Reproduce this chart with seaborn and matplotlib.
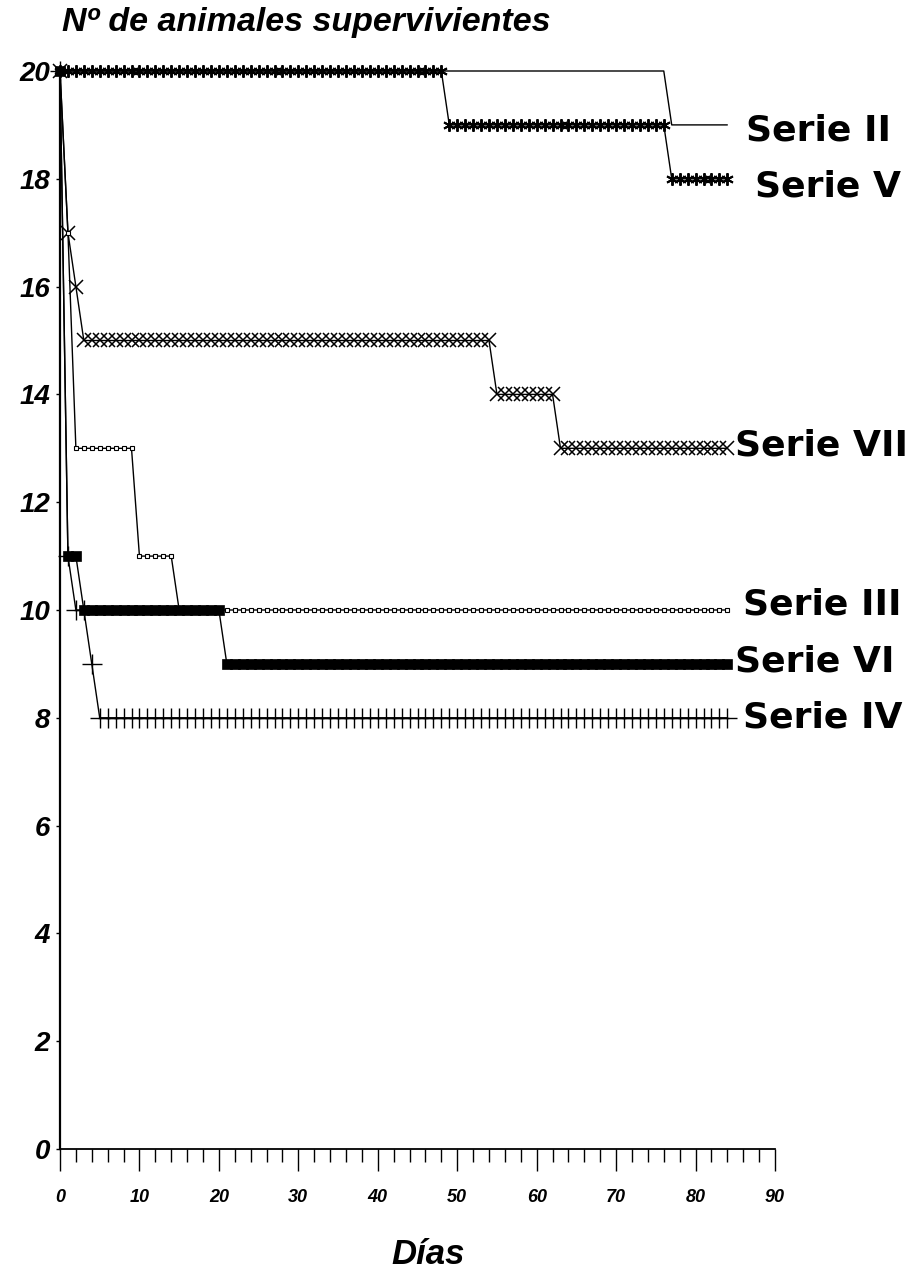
import matplotlib
matplotlib.use("Agg")
import matplotlib.pyplot as plt
import seaborn as sns
import pandas as pd
import numpy as np
from matplotlib.ticker import MultipleLocator

# ---------------- data ----------------
dias = list(range(85))  # days 0..84

serie_ii = [20] * 77 + [19] * 8
serie_v = [20] * 49 + [19] * 28 + [18] * 8
serie_vii = [20, 17, 16] + [15] * 52 + [14] * 8 + [13] * 22
serie_iii = [20, 17] + [13] * 8 + [11] * 5 + [10] * 70
serie_vi = [20] + [11] * 2 + [10] * 18 + [9] * 64
serie_iv = [20, 11] + [10] * 2 + [9] + [8] * 80

series_names = ["Serie II", "Serie V", "Serie VII", "Serie III", "Serie VI", "Serie IV"]
series_values = [serie_ii, serie_v, serie_vii, serie_iii, serie_vi, serie_iv]

x_ticks = [0, 10, 20, 30, 40, 50, 60, 70, 80, 90]
y_ticks = [0, 2, 4, 6, 8, 10, 12, 14, 16, 18, 20]

title_text = "Nº de animales supervivientes"
xlabel_text = "Días"

# ---------------- styles ----------------
styles = {
    "Serie II": dict(marker=None, lw=1.0),
    "Serie V": dict(marker=(6, 2, 0), markersize=9, mew=1.4, lw=1.0),
    "Serie VII": dict(marker="x", markersize=10.5, mew=1.1, lw=1.0),
    "Serie III": dict(marker="s", markersize=3.3, mew=0.8, mfc="white", lw=1.0),
    "Serie VI": dict(marker="s", markersize=6.5, mew=0.5, mfc="black", lw=1.0),
    "Serie IV": dict(marker="+", markersize=14, mew=1.0, lw=1.0),
}
label_pos = {
    "Serie II": (86.3, 18.9),
    "Serie V": (87.5, 17.85),
    "Serie VII": (85.0, 13.05),
    "Serie III": (86.0, 10.1),
    "Serie VI": (85.0, 9.05),
    "Serie IV": (86.0, 8.0),
}

sns.set_style("ticks")
plt.rcParams["font.family"] = ["Liberation Sans", "DejaVu Sans"]
plt.rcParams["text.color"] = "black"
plt.rcParams["axes.labelcolor"] = "black"
plt.rcParams["xtick.color"] = "black"
plt.rcParams["ytick.color"] = "black"
plt.rcParams["axes.edgecolor"] = "black"

fig = plt.figure(figsize=(9.17, 12.75), dpi=100)
ax = fig.add_axes([60 / 917, 1 - 1149 / 1275, (775 - 60) / 917, (1149 - 71) / 1275])

for name, vals in zip(series_names, series_values):
    df = pd.DataFrame({"dia": dias, "n": vals})
    st = dict(styles[name])
    kw = dict(color="black", lw=st.pop("lw"), clip_on=False)
    mk = st.pop("marker")
    if mk is not None:
        kw["marker"] = mk
        kw["markeredgecolor"] = "black"
        for k, v in st.items():
            kw[k] = v
    sns.lineplot(data=df, x="dia", y="n", ax=ax, estimator=None, legend=False, **kw)
    lx, ly = label_pos[name]
    ax.text(lx, ly, name, ha="left", va="center", fontsize=26, fontweight="bold",
            family="DejaVu Sans", color="black", clip_on=False)

ax.set_xlim(0, 90)
ax.set_ylim(0, 20)
ax.set_xticks(x_ticks)
ax.set_xticklabels([str(t) for t in x_ticks])
ax.xaxis.set_minor_locator(MultipleLocator(2))
ax.set_yticks(y_ticks)
ax.set_yticklabels([str(t) for t in y_ticks])

for lab in ax.get_xticklabels():
    lab.set_fontsize(13)
    lab.set_fontweight("bold")
    lab.set_fontstyle("italic")
    lab.set_color("black")
for lab in ax.get_yticklabels():
    lab.set_fontsize(20)
    lab.set_fontweight("bold")
    lab.set_fontstyle("italic")
    lab.set_color("black")

ax.tick_params(axis="x", which="major", direction="out", length=16, width=1.0, pad=13, colors="black")
ax.tick_params(axis="x", which="minor", direction="out", length=9, width=1.0, colors="black")
ax.tick_params(axis="y", which="major", direction="out", length=3, width=1.0, pad=4, colors="black")

sns.despine(ax=ax, top=True, right=True)
ax.spines["left"].set_linewidth(1.6)
ax.spines["bottom"].set_linewidth(1.3)
ax.spines["left"].set_color("black")
ax.spines["bottom"].set_color("black")
ax.set_xlabel("")
ax.set_ylabel("")

fig.text(62 / 917, 1 - 22 / 1275, title_text, ha="left", va="center", fontsize=24.5,
         fontweight="bold", fontstyle="italic", color="black")
fig.text(428 / 917, 1 - 1255 / 1275, xlabel_text, ha="center", va="center", fontsize=25,
         fontweight="bold", fontstyle="italic", color="black")

fig.savefig("out.png", dpi=100, facecolor="white")
